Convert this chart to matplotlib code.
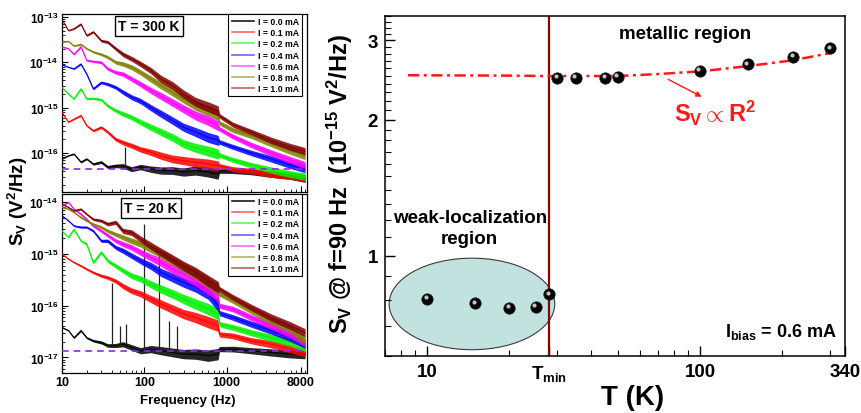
import numpy as np
import matplotlib
matplotlib.use('Agg')
import matplotlib.pyplot as plt
from matplotlib.patches import Ellipse
from matplotlib.lines import Line2D
import matplotlib.ticker as mticker
import matplotlib.transforms as mtrans

plt.rcParams['font.family'] = ['Liberation Sans', 'DejaVu Sans']
plt.rcParams['font.weight'] = 'bold'
plt.rcParams['mathtext.fontset'] = 'custom'
plt.rcParams['mathtext.rm'] = 'Liberation Sans:bold'
plt.rcParams['mathtext.bf'] = 'Liberation Sans:bold'
plt.rcParams['mathtext.it'] = 'Liberation Sans:bold:italic'
plt.rcParams['mathtext.sf'] = 'Liberation Sans:bold'
plt.rcParams['mathtext.default'] = 'bf'

# ---------------- data: noise spectra ----------------
freq = [10, 12, 14, 17, 20, 24, 30, 36, 45, 55, 70, 90, 120, 160, 220, 300,
        420, 600, 790, 820, 1200, 2000, 3500, 6000, 9000]
# observed scatter of the spectra (half width, decades)
band_hw = [0.01, 0.01, 0.015, 0.02, 0.02, 0.025, 0.03, 0.035, 0.04, 0.05, 0.055, 0.06,
           0.07, 0.08, 0.085, 0.09, 0.10, 0.11, 0.11, 0.05, 0.055, 0.06, 0.07, 0.075, 0.08]

currents = ['0.0', '0.1', '0.2', '0.4', '0.6', '0.8', '1.0']
colors = ['#000000', '#ff0000', '#00f000', '#0000ff', '#ff00ff', '#808000', '#800000']

s300_00 = [7.4e-17, 8.7e-17, 9.5e-17, 6.3e-17, 7.4e-17, 5.7e-17, 6.3e-17, 4.9e-17, 5.2e-17, 5.2e-17,
           4.4e-17, 4.9e-17, 4.4e-17, 4.1e-17, 4.1e-17, 3.8e-17, 4.1e-17, 3.8e-17, 3.4e-17, 4.0e-17,
           4.0e-17, 3.8e-17, 3.4e-17, 3.1e-17, 2.7e-17]
s300_01 = [7.9e-16, 4.8e-16, 5.6e-16, 6.7e-16, 4.0e-16, 3.1e-16, 3.7e-16, 2.9e-16, 2.0e-16, 1.7e-16,
           1.45e-16, 1.2e-16, 1.04e-16, 8.7e-17, 7.4e-17, 6.8e-17, 6.2e-17, 5.7e-17, 5.2e-17, 5.2e-17,
           4.4e-17, 4.0e-17, 3.4e-17, 3.1e-17, 2.8e-17]
s300_02 = [2.8e-15, 2.0e-15, 1.56e-15, 2.6e-15, 1.56e-15, 1.6e-15, 1.5e-15, 1.1e-15, 8.6e-16, 7.3e-16,
           6.1e-16, 4.8e-16, 3.7e-16, 2.9e-16, 2.2e-16, 1.6e-16, 1.3e-16, 1.1e-16, 9.5e-17, 9.0e-17,
           7.0e-17, 5.4e-17, 4.2e-17, 3.4e-17, 3.0e-17]
s300_04 = [8.9e-15, 7.8e-15, 7.2e-15, 9.2e-15, 5.5e-15, 2.6e-15, 3.6e-15, 3.3e-15, 2.8e-15, 2.2e-15,
           1.7e-15, 1.4e-15, 1.0e-15, 7.3e-16, 5.2e-16, 3.7e-16, 2.9e-16, 2.2e-16, 1.9e-16, 1.75e-16,
           1.36e-16, 1.0e-16, 7.4e-17, 5.4e-17, 4.4e-17]
s300_06 = [2.2e-14, 2.0e-14, 1.5e-14, 2.2e-14, 1.1e-14, 1.05e-14, 1.0e-14, 7.2e-15, 6.0e-15, 5.5e-15,
           4.3e-15, 3.3e-15, 2.4e-15, 1.8e-15, 1.3e-15, 9.4e-16, 6.7e-16, 5.2e-16, 4.0e-16, 3.4e-16,
           2.3e-16, 1.5e-16, 1.0e-16, 7.0e-17, 5.4e-17]
s300_08 = [2.8e-14, 2.9e-14, 2.3e-14, 2.5e-14, 2.0e-14, 1.7e-14, 1.5e-14, 1.3e-14, 1.0e-14, 9.2e-15,
           7.8e-15, 6.0e-15, 4.3e-15, 3.1e-15, 2.2e-15, 1.56e-15, 1.1e-15, 8.6e-16, 6.7e-16, 4.6e-16,
           3.2e-16, 2.4e-16, 1.6e-16, 1.1e-16, 8.6e-17]
s300_10 = [8.8e-14, 5.0e-14, 5.5e-14, 7.0e-14, 3.9e-14, 4.7e-14, 3.0e-14, 2.8e-14, 2.0e-14, 1.5e-14,
           1.2e-14, 9.2e-15, 6.6e-15, 4.3e-15, 3.1e-15, 2.0e-15, 1.34e-15, 1.04e-15, 8.5e-16, 6.6e-16,
           4.2e-16, 2.9e-16, 1.9e-16, 1.36e-16, 1.1e-16]

s20_00 = [3.8e-17, 3.3e-17, 2.4e-17, 3.3e-17, 2.4e-17, 2.1e-17, 1.95e-17, 1.7e-17, 1.7e-17, 1.8e-17,
          1.56e-17, 1.35e-17, 1.45e-17, 1.35e-17, 1.25e-17, 1.16e-17, 1.16e-17, 1.08e-17, 1.16e-17, 1.45e-17,
          1.45e-17, 1.35e-17, 1.25e-17, 1.16e-17, 1.13e-17]
s20_01 = [1.0e-15, 8.0e-16, 6.9e-16, 5.9e-16, 5.1e-16, 4.4e-16, 3.8e-16, 3.5e-16, 3.0e-16, 2.4e-16,
          1.95e-16, 1.7e-16, 1.35e-16, 1.08e-16, 8.6e-17, 6.9e-17, 5.9e-17, 4.8e-17, 4.1e-17, 2.8e-17,
          2.6e-17, 2.1e-17, 1.8e-17, 1.45e-17, 1.25e-17]
s20_02 = [2.8e-15, 2.1e-15, 3.0e-15, 1.8e-15, 1.56e-15, 6.8e-16, 1.08e-15, 7.4e-16, 5.9e-16, 4.8e-16,
          3.8e-16, 3.3e-16, 2.6e-16, 2.1e-16, 1.7e-16, 1.35e-16, 1.08e-16, 8.6e-17, 6.9e-17, 4.4e-17,
          3.8e-17, 3.0e-17, 2.4e-17, 1.95e-17, 1.56e-17]
s20_04 = [5.5e-15, 4.4e-15, 3.5e-15, 3.3e-15, 3.3e-15, 2.8e-15, 1.8e-15, 1.8e-15, 1.34e-15, 1.16e-15,
          9.3e-16, 7.4e-16, 5.9e-16, 4.4e-16, 3.5e-16, 2.8e-16, 2.3e-16, 1.7e-16, 1.0e-16, 7.2e-17,
          5.9e-17, 4.4e-17, 3.3e-17, 2.4e-17, 1.8e-17]
s20_06 = [8.6e-15, 1.0e-14, 7.4e-15, 5.9e-15, 4.7e-15, 3.5e-15, 2.8e-15, 2.3e-15, 1.8e-15, 1.56e-15,
          1.34e-15, 1.08e-15, 8.6e-16, 6.9e-16, 5.1e-16, 4.1e-16, 3.0e-16, 2.1e-16, 1.6e-16, 1.0e-16,
          8.6e-17, 5.9e-17, 4.1e-17, 2.8e-17, 1.95e-17]
s20_08 = [8.0e-15, 7.4e-15, 6.4e-15, 5.1e-15, 4.4e-15, 3.8e-15, 3.3e-15, 2.8e-15, 2.4e-15, 2.1e-15,
          1.8e-15, 1.56e-15, 1.25e-15, 1.0e-15, 7.4e-16, 5.5e-16, 4.1e-16, 2.8e-16, 2.1e-16, 1.7e-16,
          1.25e-16, 8.0e-17, 5.1e-17, 3.5e-17, 2.1e-17]
s20_10 = [9.2e-15, 8.0e-15, 6.9e-15, 7.4e-15, 5.9e-15, 4.7e-15, 4.4e-15, 3.8e-15, 4.1e-15, 2.8e-15,
          2.6e-15, 1.95e-15, 1.45e-15, 1.08e-15, 8.0e-16, 5.9e-16, 4.4e-16, 3.0e-16, 2.3e-16, 2.1e-16,
          1.45e-16, 9.3e-17, 5.9e-17, 4.1e-17, 3.0e-17]

# narrow interference lines in the I = 0 spectra
spike_f300 = [58]
spike_base300 = [4.5e-17]
spike_top300 = [1.36e-16]
spike_f20 = [40, 50, 60, 100, 150, 200, 250]
spike_base20 = [1.7e-17, 1.7e-17, 1.8e-17, 1.4e-17, 1.4e-17, 1.3e-17, 1.25e-17]
spike_top20 = [2.8e-16, 4.0e-17, 4.4e-17, 3.8e-15, 1.0e-15, 5.0e-17, 4.0e-17]

floor300 = 4.4e-17
floor20 = 1.33e-17

# ---------------- data: S_V at 90 Hz vs T ----------------
T_weak = [10, 15, 20, 25, 28]
S_weak = [0.803, 0.785, 0.768, 0.770, 0.822]
T_metal = [30, 35, 45, 50, 100, 150, 220, 300]
S_metal = [2.475, 2.475, 2.479, 2.488, 2.568, 2.653, 2.758, 2.877]
T_fit = [8.5, 20, 28, 50, 70, 100, 150, 220, 300]
S_fit = [2.51, 2.505, 2.50, 2.50, 2.525, 2.56, 2.63, 2.71, 2.81]
T_min = 28

W, H = 862, 414
fig = plt.figure(figsize=(W / 100, H / 100), dpi=100)


def fax(x0, y_top, x1, y_bot):
    return [x0 / W, 1 - y_bot / H, (x1 - x0) / W, (y_bot - y_top) / H]


ax1 = fig.add_axes(fax(62, 15, 307, 193))
ax2 = fig.add_axes(fax(62, 195, 307, 374))

hw = np.array(band_hw)
f = np.array(freq, dtype=float)


def draw_panel(ax, series, spikes, floor, ylim, yticks, ylabels, title):
    ax.set_xscale('log')
    ax.set_yscale('log')
    for k, (vals, c) in enumerate(zip(series, colors)):
        s = np.array(vals)
        ax.fill_between(f, s / 10 ** hw, s * 10 ** hw, color=c, lw=0, alpha=0.85, zorder=2 + k)
        ax.plot(f, s, color=c, lw=0.8, zorder=2 + k)
    sf, sb, st = spikes
    ax.vlines(sf, sb, st, color='#222222', lw=0.9, zorder=2)
    ax.axhline(floor, color='#8a2be2', lw=1.2, ls=(0, (4, 3)), zorder=12)
    ax.set_xlim(10, 9500)
    ax.set_ylim(*ylim)
    ax.yaxis.set_major_locator(mticker.FixedLocator(yticks))
    ax.yaxis.set_major_formatter(mticker.FixedFormatter(ylabels))
    ax.yaxis.set_minor_locator(mticker.LogLocator(base=10, subs=np.arange(2, 10), numticks=50))
    ax.yaxis.set_minor_formatter(mticker.NullFormatter())
    ax.xaxis.set_major_locator(mticker.FixedLocator([10, 100, 1000, 8000]))
    ax.xaxis.set_major_formatter(mticker.FixedFormatter(['10', '100', '1000', '8000']))
    ax.xaxis.set_minor_locator(mticker.LogLocator(base=10, subs=np.arange(2, 10), numticks=50))
    ax.xaxis.set_minor_formatter(mticker.NullFormatter())
    ax.tick_params(which='major', direction='in', length=4, width=0.8, labelsize=8.5, pad=2.5)
    ax.tick_params(which='minor', direction='in', length=2, width=0.6)
    ax.tick_params(axis='x', labelsize=9)
    for sp in ax.spines.values():
        sp.set_linewidth(0.9)
    handles = [Line2D([], [], color=c, lw=1.2, alpha=0.6 if i else 0.9) for i, c in enumerate(colors)]
    ax.legend(handles, ['I = %s mA' % cur for cur in currents], loc='upper right',
              bbox_to_anchor=(0.98, 1.0), borderaxespad=0, handlelength=2.6,
              handletextpad=0.4, borderpad=0.35, labelspacing=0.25, fancybox=False,
              framealpha=1, edgecolor='black', prop={'weight': 'bold', 'size': 6.3})
    ax.get_legend().get_frame().set_linewidth(0.8)
    ax.text(title[1], title[2], title[0], transform=ax.transAxes, ha='center', va='center',
            fontsize=10, fontweight='bold',
            bbox=dict(boxstyle='square,pad=0.22', fc='white', ec='black', lw=1.0), zorder=20)


draw_panel(ax1, [s300_00, s300_01, s300_02, s300_04, s300_06, s300_08, s300_10],
           (spike_f300, spike_base300, spike_top300), floor300, (1.38e-17, 1.165e-13),
           [1e-16, 1e-15, 1e-14, 1e-13],
           [r'$10^{-16}$', r'$10^{-15}$', r'$10^{-14}$', r'$10^{-13}$'],
           ('T = 300 K', 0.355, 0.934))
ax1.tick_params(labelbottom=False)
draw_panel(ax2, [s20_00, s20_01, s20_02, s20_04, s20_06, s20_08, s20_10],
           (spike_f20, spike_base20, spike_top20), floor20, (5.0e-18, 1.45e-14),
           [1e-17, 1e-16, 1e-15, 1e-14],
           [r'$10^{-17}$', r'$10^{-16}$', r'$10^{-15}$', r'$10^{-14}$'],
           ('T = 20 K', 0.363, 0.922))

fig.text(188 / W, 1 - 401 / H, 'Frequency (Hz)', ha='center', va='center', fontsize=9.5,
         fontweight='bold')
fig.text(18 / W, 1 - 201 / H, r'$S_V\ (V^2/Hz)$', ha='center', va='center', rotation=90,
         fontsize=13.5)

# ---------------- right panel ----------------
ax3 = fig.add_axes(fax(385, 16.7, 845, 357))
ax3.set_xscale('log')
ax3.set_yscale('log')
ax3.set_xlim(7, 340)
ax3.set_ylim(0.6, 3.4)
ax3.add_patch(Ellipse((0.189, 0.153), 0.360, 0.269, transform=ax3.transAxes,
                      fc='#c2e2e0', ec='#3a3a3a', lw=0.8, zorder=1))
ax3.axvline(T_min, color='#8b0000', lw=1.6, zorder=2)
ax3.plot(T_fit, S_fit, color='#ff1a1a', lw=1.8, ls=(0, (4.5, 1.8, 1.2, 1.8)), zorder=3)
mk = dict(marker='o', ms=8.2, mfc='black', mec='#202020', mew=0.5, ls='none', zorder=5)
ax3.plot(T_weak, S_weak, **mk)
ax3.plot(T_metal, S_metal, **mk)
hl = mtrans.offset_copy(ax3.transData, fig=fig, x=-1.2, y=1.2, units='points')
hk = dict(marker='o', ms=3.0, mfc='#d8d8d8', mec='none', ls='none', zorder=6, alpha=0.9,
          transform=hl)
ax3.plot(T_weak, S_weak, **hk)
ax3.plot(T_metal, S_metal, **hk)

ax3.xaxis.set_major_locator(mticker.FixedLocator([10, T_min, 100, 340]))
ax3.xaxis.set_major_formatter(mticker.FixedFormatter(['10', r'$T_{min}$', '100', '340']))
ax3.xaxis.set_minor_locator(mticker.LogLocator(base=10, subs=np.arange(2, 10), numticks=50))
ax3.xaxis.set_minor_formatter(mticker.NullFormatter())
ax3.yaxis.set_major_locator(mticker.FixedLocator([1, 2, 3]))
ax3.yaxis.set_major_formatter(mticker.FixedFormatter(['1', '2', '3']))
ax3.yaxis.set_minor_locator(mticker.MultipleLocator(0.1))
ax3.yaxis.set_minor_formatter(mticker.NullFormatter())
ax3.tick_params(which='major', direction='in', length=7, width=1.0, labelsize=13.5, pad=5)
ax3.tick_params(which='minor', direction='in', length=4, width=0.8)
for sp in ax3.spines.values():
    sp.set_linewidth(1.1)

ax3.text(0.652, 0.949, 'metallic region', transform=ax3.transAxes, ha='center', va='center',
         fontsize=13.5, fontweight='bold')
ax3.text(0.184, 0.375, 'weak-localization\nregion', transform=ax3.transAxes, ha='center',
         va='center', fontsize=13.5, fontweight='bold', linespacing=1.3)
ax3.text(0.717, 0.6906, r'$S_V \propto R^2$', transform=ax3.transAxes, ha='center',
         va='baseline', fontsize=17, color='#ff1a1a')
ax3.annotate('', xy=(0.694, 0.758), xytext=(0.610, 0.817), xycoords='axes fraction',
             textcoords='axes fraction',
             arrowprops=dict(arrowstyle='-|>', color='#ff1a1a', lw=1.0, mutation_scale=8))
ax3.text(0.983, 0.0597, r'$I_{bias}$ = 0.6 mA', transform=ax3.transAxes, ha='right',
         va='baseline', fontsize=13, fontweight='bold')

fig.text(339.5 / W, 1 - 184 / H, r'$S_V$ @ f=90 Hz  (10$^{-15}$ V$^2$/Hz)', rotation=90,
         ha='center', va='center', fontsize=17, fontweight='bold')
fig.text(633 / W, 1 - 398 / H, 'T (K)', ha='center', va='center', fontsize=20,
         fontweight='bold')

fig.savefig('out.png', dpi=100, facecolor='white')
